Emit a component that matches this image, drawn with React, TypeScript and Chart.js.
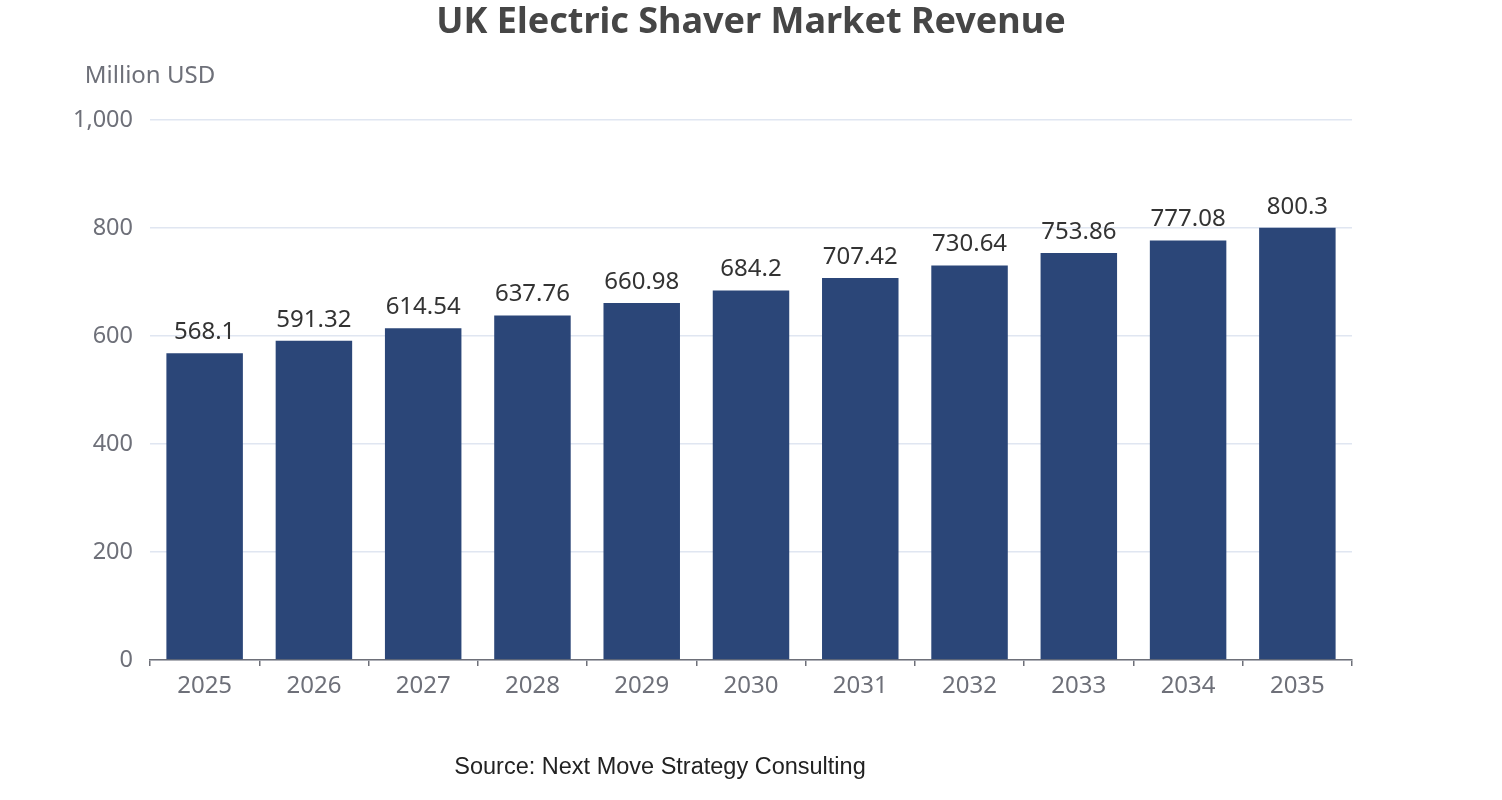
import { useEffect, useRef } from 'react';
import { Chart, registerables } from 'chart.js';

Chart.register(...registerables);

const years = ['2025', '2026', '2027', '2028', '2029', '2030', '2031', '2032', '2033', '2034', '2035'];
const revenue = [568.1, 591.32, 614.54, 637.76, 660.98, 684.2, 707.42, 730.64, 753.86, 777.08, 800.3];
const yTicks = [0, 200, 400, 600, 800, 1000];

const TITLE = 'UK Electric Shaver Market Revenue';
const AXIS_NAME = 'Million USD';
const SOURCE = 'Source: Next Move Strategy Consulting';

const FONT = '"Noto Sans", "Open Sans", sans-serif';
const AXIS_COLOR = '#6e7079';

// draws title, unit label, source and the value labels on top of bars
const textPlugin = {
  id: 'textPlugin',
  afterDatasetsDraw(chart: Chart) {
    const { ctx, chartArea } = chart;
    ctx.save();

    ctx.fillStyle = '#464646';
    ctx.font = `bold 36px ${FONT}`;
    ctx.textAlign = 'center';
    ctx.textBaseline = 'middle';
    ctx.fillText(TITLE, chart.width / 2, 23);

    ctx.fillStyle = AXIS_COLOR;
    ctx.font = `24px ${FONT}`;
    ctx.fillText(AXIS_NAME, chartArea.left, 76);

    ctx.fillStyle = '#222';
    ctx.font = '23.5px "Liberation Sans", Arial, sans-serif';
    ctx.fillText(SOURCE, 660, 768);

    const meta = chart.getDatasetMeta(0);
    ctx.fillStyle = '#333';
    ctx.font = `24px ${FONT}`;
    ctx.textBaseline = 'bottom';
    meta.data.forEach((bar: any, i: number) => {
      ctx.fillText(String(revenue[i]), bar.x, bar.y - 9);
    });
    ctx.restore();
  },
};

export default function App() {
  const chartRef = useRef<HTMLCanvasElement>(null);
  const chartInstance = useRef<Chart | null>(null);

  useEffect(() => {
    document.body.style.margin = '0';
    if (!chartRef.current) return;
    const ctx = chartRef.current.getContext('2d');
    if (!ctx) return;
    if (chartInstance.current) chartInstance.current.destroy();

    chartInstance.current = new Chart(ctx, {
      type: 'bar',
      data: {
        labels: years,
        datasets: [
          {
            label: 'Revenue',
            data: revenue,
            backgroundColor: '#2b4678',
            barPercentage: 0.7,
            categoryPercentage: 1,
          },
        ],
      },
      options: {
        animation: false,
        responsive: false,
        maintainAspectRatio: false,
        layout: { padding: { top: 120, right: 150, left: 0, bottom: 0 } },
        plugins: {
          legend: { display: false },
          title: { display: false },
          tooltip: { enabled: false },
        },
        scales: {
          x: {
            afterFit: (s: any) => {
              s.height = 140;
            },
            grid: {
              drawOnChartArea: false,
              drawTicks: true,
              tickLength: 6,
              color: AXIS_COLOR,
              lineWidth: 1.5,
            },
            border: { display: true, color: AXIS_COLOR, width: 1.5 },
            ticks: {
              color: AXIS_COLOR,
              font: { family: FONT, size: 24 },
              padding: 6,
            },
          },
          y: {
            min: 0,
            max: 1000,
            afterFit: (s: any) => {
              s.width = 150;
            },
            afterBuildTicks: (s: any) => {
              s.ticks = yTicks.map((v) => ({ value: v }));
            },
            grid: { color: '#e0e6f1', drawTicks: false, lineWidth: 1.5 },
            border: { display: false },
            ticks: {
              color: AXIS_COLOR,
              font: { family: FONT, size: 23.5 },
              padding: 17,
              callback: (v: any) => Number(v).toLocaleString('en-US'),
            },
          },
        },
      },
      plugins: [textPlugin],
    });

    return () => {
      if (chartInstance.current) {
        chartInstance.current.destroy();
        chartInstance.current = null;
      }
    };
  }, []);

  return (
    <div style={{ width: 1502, height: 800, background: '#fff' }}>
      <canvas ref={chartRef} width={1502} height={800} style={{ width: 1502, height: 800 }}></canvas>
    </div>
  );
}
